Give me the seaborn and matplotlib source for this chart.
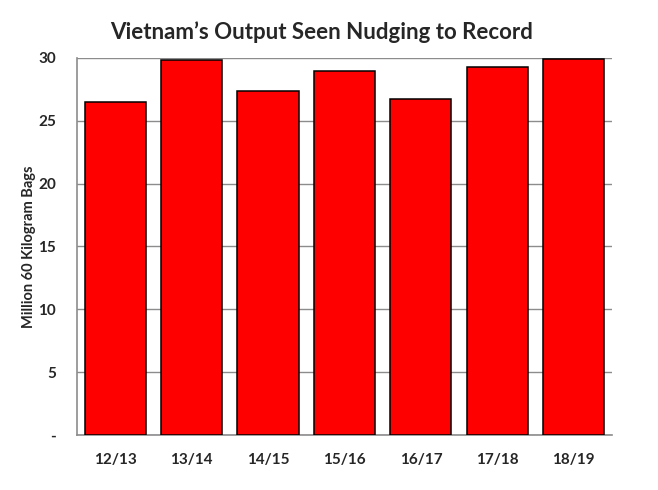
import numpy as np
import pandas as pd
import matplotlib
matplotlib.use("Agg")
import matplotlib.pyplot as plt
import seaborn as sns

# crop years and output (million 60 kg bags)
seasons = ["12/13", "13/14", "14/15", "15/16", "16/17", "17/18", "18/19"]
output = [26.5, 29.8, 27.4, 28.95, 26.7, 29.3, 29.9]
y_ticks = [0, 5, 10, 15, 20, 25, 30]
y_tick_labels = ["-", "5", "10", "15", "20", "25", "30"]

df = pd.DataFrame({"season": seasons, "output": output})

sns.set_style("white")
plt.rcParams["font.family"] = ["Lato", "DejaVu Sans"]

fig = plt.figure(figsize=(6.58, 4.90), dpi=100)
ax = fig.add_axes([0.117, 0.112, 0.813, 0.770])

sns.barplot(data=df, x="season", y="output", color="#ff0000", saturation=1,
            width=0.8, edgecolor="black", linewidth=1.1, ax=ax, zorder=3)

ax.set_ylim(0, 30)
ax.set_xlim(-0.5, len(seasons) - 0.5)
ax.set_yticks(y_ticks)
ax.set_yticklabels(y_tick_labels, fontsize=11, fontweight="bold")
ax.yaxis.grid(True, color="#8c8c8c", linewidth=1, zorder=0)
ax.set_axisbelow(True)

# category boundary ticks on x axis
ax.set_xticks(np.arange(-0.5, len(seasons), 1.0), minor=True)
ax.tick_params(axis="x", which="major", length=0, pad=13)
ax.tick_params(axis="x", which="minor", length=5, color="#8c8c8c", width=1, direction="out")
ax.tick_params(axis="y", which="major", length=9, color="#8c8c8c", width=1, direction="out", pad=6)
for lbl in ax.get_xticklabels():
    lbl.set_fontsize(11)
    lbl.set_fontweight("bold")

for side in ["top", "right"]:
    ax.spines[side].set_visible(False)
for side in ["left", "bottom"]:
    ax.spines[side].set_color("#8c8c8c")
    ax.spines[side].set_linewidth(1.2)

ax.set_xlabel("")
ax.set_ylabel("Million 60 Kilogram Bags", fontsize=10.5, fontweight="bold")
ax.yaxis.set_label_coords(-0.076, 0.5)
fig.text(0.488, 0.935, "Vietnam\u2019s Output Seen Nudging to Record", fontsize=16,
         fontweight="bold", ha="center", va="center")

fig.savefig("out.png", dpi=100)
